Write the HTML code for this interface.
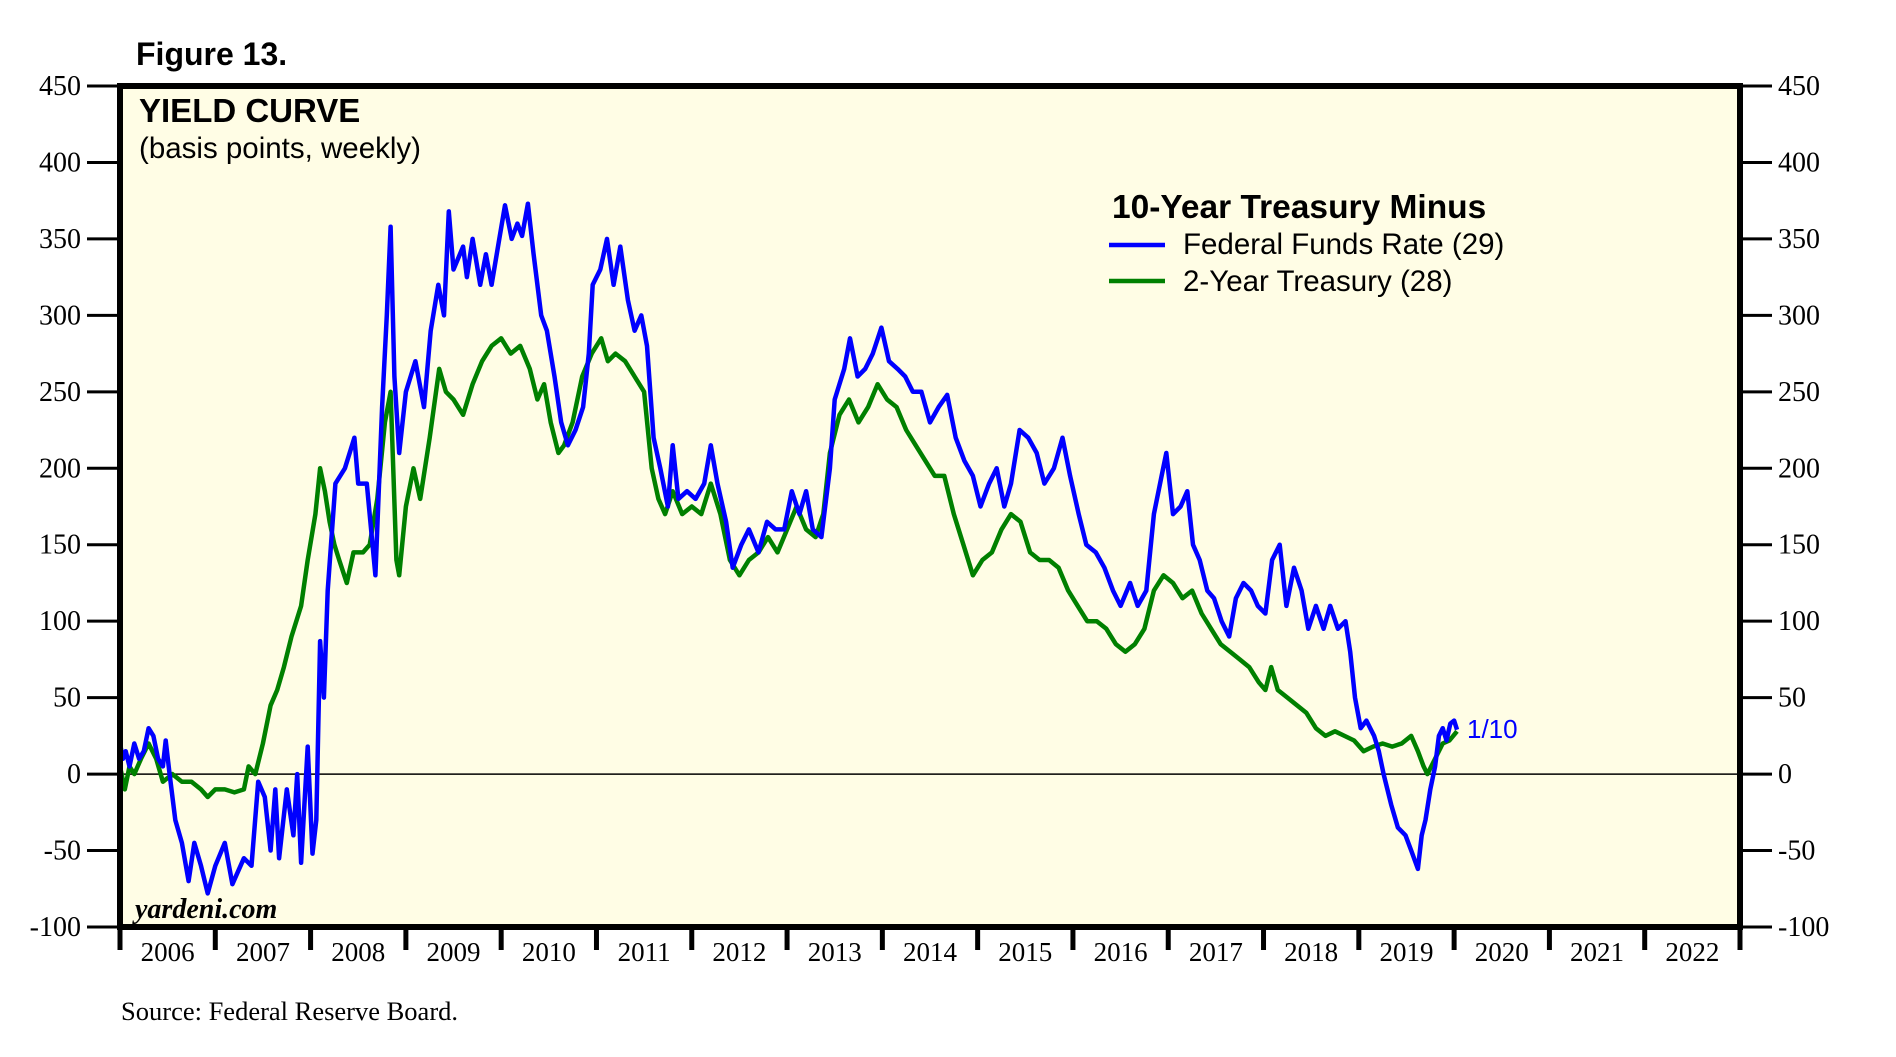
<!DOCTYPE html>
<html><head><meta charset="utf-8">
<style>
html,body{margin:0;padding:0;background:#fff;}
svg{display:block;}
</style></head>
<body>
<svg id="chart" width="1896" height="1057" viewBox="0 0 1896 1057" xmlns="http://www.w3.org/2000/svg">
<text x="136" y="65" font-family="Liberation Sans, sans-serif" font-weight="bold" font-size="32">Figure 13.</text>
<rect x="120" y="86" width="1620" height="841" fill="#fffde5"/>
<g id="grid"></g>
<g id="series"></g>
<rect x="120" y="86" width="1620" height="841" fill="none" stroke="#000" stroke-width="6"/>
<g id="axes"></g>
<text x="139" y="122" font-family="Liberation Sans, sans-serif" font-weight="bold" font-size="33">YIELD CURVE</text>
<text x="139" y="158" font-family="Liberation Sans, sans-serif" font-size="29.5">(basis points, weekly)</text>
<g>
<text x="1112" y="218" font-family="Liberation Sans, sans-serif" font-weight="bold" font-size="33.5">10-Year Treasury Minus</text>
<line x1="1109" y1="245" x2="1165" y2="245" stroke="#0000ff" stroke-width="4.5"/>
<text x="1183" y="254" font-family="Liberation Sans, sans-serif" font-size="29.5">Federal Funds Rate (29)</text>
<line x1="1109" y1="281" x2="1165" y2="281" stroke="#008000" stroke-width="4.5"/>
<text x="1183" y="291" font-family="Liberation Sans, sans-serif" font-size="29.5">2-Year Treasury (28)</text>
</g>
<text x="1467" y="738" fill="#0000ff" font-family="Liberation Sans, sans-serif" font-size="26">1/10</text>
<text x="135" y="918" font-family="Liberation Serif, serif" font-weight="bold" font-style="italic" font-size="28">yardeni.com</text>
<text x="121" y="1020" font-family="Liberation Serif, serif" font-size="26.5">Source: Federal Reserve Board.</text>
</svg>
<script>
const yTicks = [450,400,350,300,250,200,150,100,50,0,-50,-100];
const years = [2006,2007,2008,2009,2010,2011,2012,2013,2014,2015,2016,2017,2018,2019,2020,2021,2022];
const ffDates = [2006.0,2006.03,2006.06,2006.1,2006.15,2006.2,2006.25,2006.3,2006.35,2006.4,2006.45,2006.48,2006.52,2006.58,2006.65,2006.72,2006.78,2006.85,2006.92,2007.0,2007.1,2007.18,2007.3,2007.38,2007.45,2007.52,2007.58,2007.63,2007.67,2007.75,2007.82,2007.86,2007.9,2007.97,2008.02,2008.06,2008.1,2008.14,2008.18,2008.26,2008.36,2008.46,2008.5,2008.59,2008.68,2008.75,2008.8,2008.84,2008.88,2008.93,2009.0,2009.1,2009.19,2009.26,2009.34,2009.4,2009.45,2009.5,2009.6,2009.64,2009.7,2009.78,2009.84,2009.9,2009.98,2010.04,2010.11,2010.17,2010.22,2010.28,2010.34,2010.42,2010.48,2010.56,2010.63,2010.7,2010.78,2010.86,2010.92,2010.96,2011.04,2011.11,2011.18,2011.25,2011.33,2011.4,2011.47,2011.53,2011.6,2011.67,2011.75,2011.8,2011.86,2011.95,2012.04,2012.13,2012.2,2012.27,2012.36,2012.43,2012.52,2012.6,2012.7,2012.79,2012.88,2012.97,2013.05,2013.13,2013.2,2013.27,2013.36,2013.45,2013.5,2013.6,2013.66,2013.74,2013.82,2013.9,2013.99,2014.07,2014.16,2014.24,2014.32,2014.41,2014.5,2014.59,2014.68,2014.77,2014.86,2014.95,2015.03,2015.12,2015.2,2015.28,2015.35,2015.44,2015.53,2015.62,2015.7,2015.8,2015.89,2015.97,2016.06,2016.14,2016.24,2016.33,2016.42,2016.5,2016.6,2016.68,2016.77,2016.85,2016.93,2016.98,2017.05,2017.13,2017.2,2017.26,2017.33,2017.41,2017.48,2017.56,2017.64,2017.71,2017.79,2017.87,2017.94,2018.02,2018.09,2018.17,2018.24,2018.32,2018.4,2018.47,2018.55,2018.63,2018.7,2018.78,2018.86,2018.91,2018.96,2019.02,2019.08,2019.16,2019.21,2019.26,2019.34,2019.41,2019.49,2019.55,2019.62,2019.66,2019.7,2019.75,2019.8,2019.84,2019.88,2019.92,2019.96,2020.0,2020.03];
const ffValues = [20,10,15,5,20,10,15,30,25,10,5,22,0,-30,-45,-70,-45,-60,-78,-60,-45,-72,-55,-60,-5,-15,-50,-10,-55,-10,-40,0,-58,18,-52,-30,87,50,120,190,200,220,190,190,130,240,300,358,260,210,250,270,240,290,320,300,368,330,345,325,350,320,340,320,350,372,350,360,352,373,340,300,290,260,230,215,225,240,275,320,330,350,320,345,310,290,300,280,220,200,175,215,180,185,180,190,215,190,165,135,150,160,145,165,160,160,185,170,185,160,155,200,245,265,285,260,265,275,292,270,265,260,250,250,230,240,248,220,205,195,175,190,200,175,190,225,220,210,190,200,220,195,170,150,145,135,120,110,125,110,120,170,195,210,170,175,185,150,140,120,115,100,90,115,125,120,110,105,140,150,110,135,120,95,110,95,110,95,100,80,50,30,35,25,15,0,-20,-35,-40,-50,-62,-40,-30,-10,5,25,30,22,33,35,29];
const tyDates = [2006.0,2006.05,2006.1,2006.15,2006.22,2006.3,2006.38,2006.45,2006.55,2006.65,2006.75,2006.85,2006.92,2007.0,2007.1,2007.2,2007.3,2007.35,2007.42,2007.5,2007.58,2007.65,2007.72,2007.8,2007.9,2007.97,2008.05,2008.1,2008.15,2008.2,2008.25,2008.3,2008.38,2008.45,2008.55,2008.62,2008.7,2008.78,2008.84,2008.9,2008.93,2009.0,2009.08,2009.15,2009.25,2009.35,2009.42,2009.5,2009.6,2009.7,2009.8,2009.9,2010.0,2010.1,2010.2,2010.3,2010.38,2010.45,2010.52,2010.6,2010.66,2010.75,2010.85,2010.95,2011.05,2011.12,2011.2,2011.3,2011.4,2011.5,2011.58,2011.65,2011.72,2011.8,2011.9,2012.0,2012.1,2012.2,2012.3,2012.4,2012.5,2012.6,2012.7,2012.8,2012.9,2013.0,2013.1,2013.2,2013.3,2013.38,2013.45,2013.55,2013.65,2013.75,2013.85,2013.95,2014.05,2014.15,2014.25,2014.35,2014.45,2014.55,2014.65,2014.75,2014.85,2014.95,2015.05,2015.15,2015.25,2015.35,2015.45,2015.55,2015.65,2015.75,2015.85,2015.95,2016.05,2016.15,2016.25,2016.35,2016.45,2016.55,2016.65,2016.75,2016.85,2016.95,2017.05,2017.15,2017.25,2017.35,2017.45,2017.55,2017.65,2017.75,2017.85,2017.95,2018.02,2018.08,2018.15,2018.25,2018.35,2018.45,2018.55,2018.65,2018.75,2018.85,2018.95,2019.05,2019.15,2019.25,2019.35,2019.45,2019.55,2019.62,2019.68,2019.72,2019.8,2019.88,2019.95,2020.03];
const tyValues = [5,-10,5,0,10,20,10,-5,0,-5,-5,-10,-15,-10,-10,-12,-10,5,0,20,45,55,70,90,110,140,170,200,185,165,150,140,125,145,145,150,180,230,250,140,130,175,200,180,220,265,250,245,235,255,270,280,285,275,280,265,245,255,230,210,215,230,260,275,285,270,275,270,260,250,200,180,170,185,170,175,170,190,170,140,130,140,145,155,145,160,175,160,155,170,210,235,245,230,240,255,245,240,225,215,205,195,195,170,150,130,140,145,160,170,165,145,140,140,135,120,110,100,100,95,85,80,85,95,120,130,125,115,120,105,95,85,80,75,70,60,55,70,55,50,45,40,30,25,28,25,22,15,18,20,18,20,25,15,5,0,10,20,22,28];

const NS = 'http://www.w3.org/2000/svg';
const X0 = 120, X1 = 1740, Y0 = 86, Y1 = 927;
const YMAX = 450, YMIN = -100, T0 = 2006, T1 = 2023;
function xScale(t){ return X0 + (t - T0) / (T1 - T0) * (X1 - X0); }
function yScale(v){ return Y0 + (YMAX - v) / (YMAX - YMIN) * (Y1 - Y0); }
function mk(tag, attrs, parent){ const e = document.createElementNS(NS, tag); for (const k in attrs) e.setAttribute(k, attrs[k]); parent.appendChild(e); return e; }

const grid = document.getElementById('grid');
const zl = mk('line', {x1:X0, x2:X1, y1:yScale(0), y2:yScale(0), stroke:'#000', 'stroke-width':1.5}, grid);



const axes = document.getElementById('axes');
yTicks.forEach(v => {
  const y = yScale(v);
  const tl = mk('line', {x1:87, x2:120, y1:y, y2:y, stroke:'#000', 'stroke-width':3}, axes);
  
  
  const tr = mk('line', {x1:1740, x2:1772, y1:y, y2:y, stroke:'#000', 'stroke-width':3}, axes);
  
  
  const ll = mk('text', {x:81, y:y+9, 'text-anchor':'end', 'font-family':'Liberation Serif, serif', 'font-size':28}, axes);
  ll.textContent = v;
  
  
  const rl = mk('text', {x:1778, y:y+9, 'font-family':'Liberation Serif, serif', 'font-size':28}, axes);
  rl.textContent = v;
  
  
});
for (let i = 0; i <= years.length; i++) {
  const x = xScale(T0 + i);
  const t = mk('line', {x1:x, x2:x, y1:927, y2:950, stroke:'#000', 'stroke-width':5}, axes);
  
  
}
years.forEach(yr => {
  const lb = mk('text', {x:xScale(yr + 0.5), y:961, 'text-anchor':'middle', 'font-family':'Liberation Serif, serif', 'font-size':27}, axes);
  lb.textContent = yr;
  
  
});

const series = document.getElementById('series');
function pts(d, v){ return d.map((t, i) => xScale(t).toFixed(1) + ',' + yScale(v[i]).toFixed(1)).join(' '); }
const g2 = mk('polyline', {points:pts(tyDates, tyValues), fill:'none', stroke:'#008000', 'stroke-width':4.5, 'stroke-linejoin':'round'}, series);


const gf = mk('polyline', {points:pts(ffDates, ffValues), fill:'none', stroke:'#0000ff', 'stroke-width':4.5, 'stroke-linejoin':'round'}, series);


</script>
</body></html>
